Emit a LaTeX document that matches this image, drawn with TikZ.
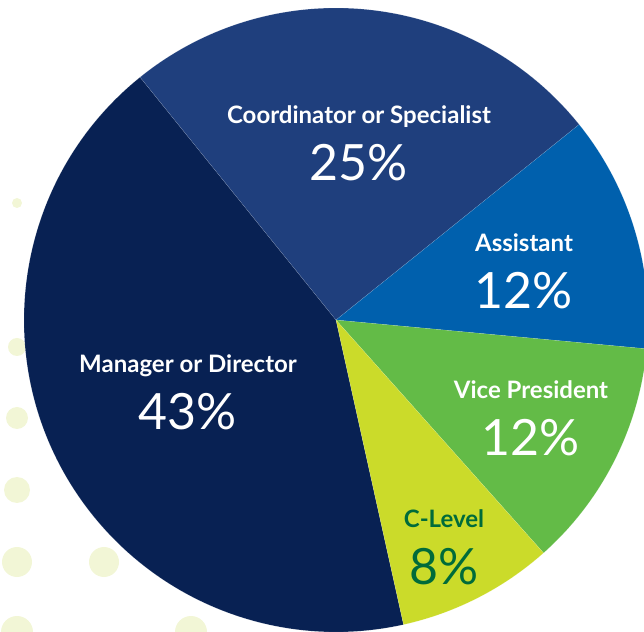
\documentclass[tikz,border=0pt]{standalone}
\usepackage{fontspec}
\setmainfont{Lato}
\usetikzlibrary{positioning}
\definecolor{mgrblue}{HTML}{082153}
\definecolor{coordblue}{HTML}{1F3F7D}
\definecolor{assistblue}{HTML}{0060AD}
\definecolor{vpgreen}{HTML}{63BB47}
\definecolor{clevelyellow}{HTML}{CBDB2A}
\definecolor{cleveltext}{HTML}{006B3A}
\definecolor{dotgreen}{HTML}{F2F6D6}
\tikzstyle{slicename}=[font=\fontsize{24}{24}\selectfont\bfseries, inner sep=0pt, anchor=base]
\tikzstyle{slicepct}=[font=\fontsize{50}{50}\selectfont, inner sep=0pt, anchor=base]
\tikzstyle{bgdot}=[circle, fill=dotgreen, inner sep=0pt]
\tikzstyle{slice}=[draw=white, draw opacity=0.25, line width=0.3pt]

\begin{document}
\begin{tikzpicture}[x=1pt, y=1pt]

    \clip (0,0) rectangle (644,631);

    % pale dots behind the pie
    \foreach \pos/\name/\size in {{(17,428)/dotA/10}, {(17,284)/dotB/18}, {(17,213)/dotC/22}, {(17,141)/dotD/26},
                                  {(17,69)/dotE/30}, {(104,69)/dotF/30}, {(17,-1)/dotG/32}, {(191,-1)/dotH/32}}
        \node[bgdot, minimum size=\size pt] (\name) at \pos {};

    % slices
    \begin{scope}[shift={(336,311)}]
    \foreach \from/\to/\col in {128.9/282.5/mgrblue, 38.8/128.9/coordblue, -5.3/38.8/assistblue,
                                -48.3/-5.3/vpgreen, -77.5/-48.3/clevelyellow}
        \path[slice, fill=\col] (0,0) -- (\from:312) arc (\from:\to:312) -- cycle;
    \end{scope}

    % labels
    \foreach \pos/\name/\label/\pct/\col in {{(359,507)/coord/Coordinator or Specialist/25/white},
                                             {(524,379.3)/assist/Assistant/12/white},
                                             {(188,258)/mgr/Manager or Director/43/white},
                                             {(531,232)/vp/Vice President/12/white},
                                             {(444,103.3)/clevel/C-Level/8/cleveltext}}
    {
        \node[slicename, text=\col] (\name) at \pos {\label};
        \node[slicepct, text=\col] (\name pct) at ([yshift=-57pt]\name.base) {\pct\%};
    }

\end{tikzpicture}
\end{document}
